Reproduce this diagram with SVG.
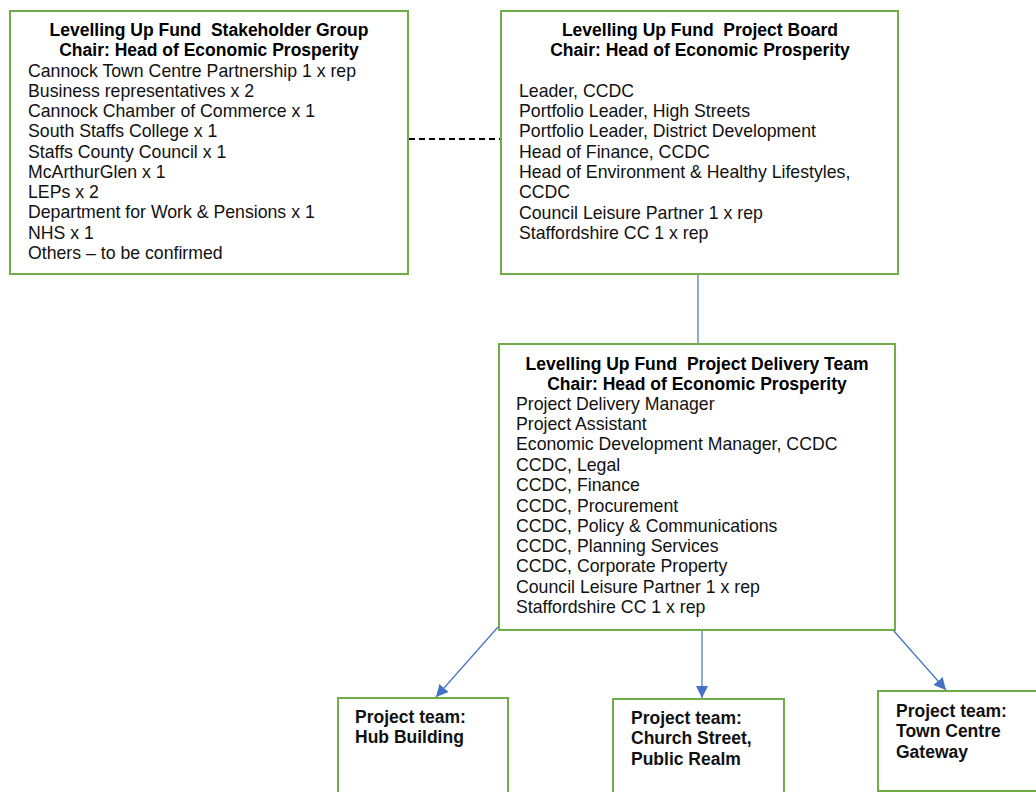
<svg xmlns="http://www.w3.org/2000/svg" width="1036" height="792" viewBox="0 0 1036 792">
<style>
.box{fill:#fff;stroke:#70AD47;stroke-width:2}
.t{font-family:"Liberation Sans",Arial,sans-serif;font-size:17.5px;font-weight:bold;fill:#000;text-anchor:middle;white-space:pre}
.b{font-family:"Liberation Sans",Arial,sans-serif;font-size:17.7px;fill:#111}
.p{font-family:"Liberation Sans",Arial,sans-serif;font-size:17.5px;font-weight:bold;fill:#111}
.c{stroke:#4472C4;stroke-width:1.2;fill:none}
</style>
<defs>
<marker id="ah" viewBox="0 0 10 10" refX="10" refY="5" markerWidth="12" markerHeight="12" markerUnits="userSpaceOnUse" orient="auto">
<path d="M0,0 L10,5 L0,10 z" fill="#4472C4"/>
</marker>
</defs>
<rect width="1036" height="792" fill="#fff"/>
<g id="connectors">
<line x1="409" y1="139" x2="501" y2="139" stroke="#000" stroke-width="2" stroke-dasharray="6,4"/>
<line class="c" x1="698" y1="275" x2="698" y2="344"/>
<line class="c" x1="498" y1="627" x2="436" y2="697" marker-end="url(#ah)"/>
<line class="c" x1="702" y1="630" x2="702" y2="698" marker-end="url(#ah)"/>
<line class="c" x1="893" y1="630" x2="946" y2="690" marker-end="url(#ah)"/>
</g>
<g id="stakeholder">
<rect class="box" x="10" y="11" width="398" height="263"/>
<text class="t" x="209" y="36" xml:space="preserve">Levelling Up Fund  Stakeholder Group</text>
<text class="t" x="209" y="56">Chair: Head of Economic Prosperity</text>
<text class="b" x="28" y="77">Cannock Town Centre Partnership 1 x rep</text>
<text class="b" x="28" y="97">Business representatives x 2</text>
<text class="b" x="28" y="117">Cannock Chamber of Commerce x 1</text>
<text class="b" x="28" y="137">South Staffs College x 1</text>
<text class="b" x="28" y="158">Staffs County Council x 1</text>
<text class="b" x="28" y="178">McArthurGlen x 1</text>
<text class="b" x="28" y="198">LEPs x 2</text>
<text class="b" x="28" y="218">Department for Work &amp; Pensions x 1</text>
<text class="b" x="28" y="239">NHS x 1</text>
<text class="b" x="28" y="259">Others – to be confirmed</text>
</g>
<g id="board">
<rect class="box" x="501" y="11" width="397" height="263"/>
<text class="t" x="700" y="36" xml:space="preserve">Levelling Up Fund  Project Board</text>
<text class="t" x="700" y="56">Chair: Head of Economic Prosperity</text>
<text class="b" x="519" y="97">Leader, CCDC</text>
<text class="b" x="519" y="117">Portfolio Leader, High Streets</text>
<text class="b" x="519" y="137">Portfolio Leader, District Development</text>
<text class="b" x="519" y="158">Head of Finance, CCDC</text>
<text class="b" x="519" y="178">Head of Environment &amp; Healthy Lifestyles,</text>
<text class="b" x="519" y="198">CCDC</text>
<text class="b" x="519" y="219">Council Leisure Partner 1 x rep</text>
<text class="b" x="519" y="239">Staffordshire CC 1 x rep</text>
</g>
<g id="delivery">
<rect class="box" x="499" y="344" width="396" height="286"/>
<text class="t" x="697" y="370" xml:space="preserve">Levelling Up Fund  Project Delivery Team</text>
<text class="t" x="697" y="390">Chair: Head of Economic Prosperity</text>
<text class="b" x="516" y="410">Project Delivery Manager</text>
<text class="b" x="516" y="430">Project Assistant</text>
<text class="b" x="516" y="450">Economic Development Manager, CCDC</text>
<text class="b" x="516" y="471">CCDC, Legal</text>
<text class="b" x="516" y="491">CCDC, Finance</text>
<text class="b" x="516" y="512">CCDC, Procurement</text>
<text class="b" x="516" y="532">CCDC, Policy &amp; Communications</text>
<text class="b" x="516" y="552">CCDC, Planning Services</text>
<text class="b" x="516" y="572">CCDC, Corporate Property</text>
<text class="b" x="516" y="593">Council Leisure Partner 1 x rep</text>
<text class="b" x="516" y="613">Staffordshire CC 1 x rep</text>
</g>
<g id="hub">
<rect class="box" x="338" y="698" width="170" height="100"/>
<text class="p" x="355" y="723">Project team:</text>
<text class="p" x="355" y="743">Hub Building</text>
</g>
<g id="church">
<rect class="box" x="613" y="699" width="171" height="100"/>
<text class="p" x="631" y="724">Project team:</text>
<text class="p" x="631" y="744">Church Street,</text>
<text class="p" x="631" y="765">Public Realm</text>
</g>
<g id="gateway">
<rect class="box" x="878" y="691" width="165" height="100"/>
<text class="p" x="896" y="717">Project team:</text>
<text class="p" x="896" y="737">Town Centre</text>
<text class="p" x="896" y="758">Gateway</text>
</g>
</svg>
